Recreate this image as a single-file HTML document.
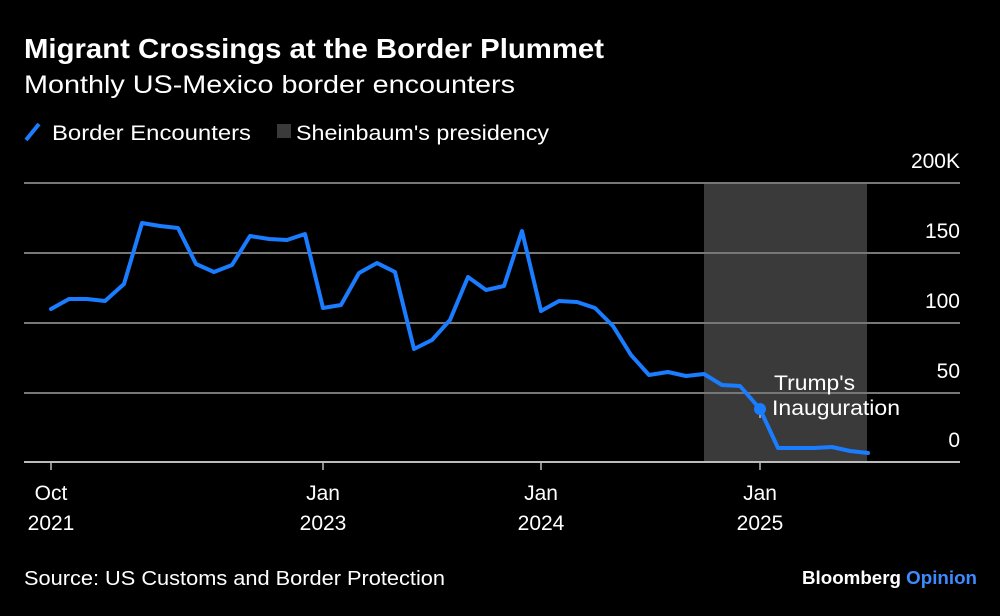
<!DOCTYPE html>
<html><head><meta charset="utf-8"><style>
html,body{margin:0;padding:0;background:#000;}
body{width:1000px;height:611px;overflow:hidden;font-family:"Liberation Sans",Arial,sans-serif;color:#fff;}
</style></head><body>
<svg width="1000" height="611" viewBox="0 0 1000 611" xmlns="http://www.w3.org/2000/svg" font-family="Liberation Sans, Arial, sans-serif">
<rect width="1000" height="611" fill="#000"/>
<text x="24" y="58" font-size="28" font-weight="bold" fill="#fff" textLength="580" lengthAdjust="spacingAndGlyphs">Migrant Crossings at the Border Plummet</text>
<text x="24" y="93" font-size="25" fill="#fff" textLength="491" lengthAdjust="spacingAndGlyphs">Monthly US-Mexico border encounters</text>
<line x1="26" y1="140" x2="39" y2="124" stroke="#1a7cff" stroke-width="4"/>
<text x="52" y="140" font-size="21" fill="#fff" textLength="199" lengthAdjust="spacingAndGlyphs">Border Encounters</text>
<rect x="277" y="124" width="14" height="14" fill="#3a3a3a"/>
<text x="296" y="140" font-size="21" fill="#fff" textLength="253" lengthAdjust="spacingAndGlyphs">Sheinbaum's presidency</text>
<rect x="704" y="183" width="163" height="279" fill="#3a3a3a"/>
<g stroke="#777" stroke-width="2">
<line x1="24" y1="183" x2="960" y2="183"/>
<line x1="24" y1="253" x2="960" y2="253"/>
<line x1="24" y1="323" x2="960" y2="323"/>
<line x1="24" y1="393" x2="960" y2="393"/>
</g>
<line x1="24" y1="462" x2="960" y2="462" stroke="#bbb" stroke-width="2"/>
<g font-size="21" fill="#fff" text-anchor="end">
<text x="960" y="168">200K</text>
<text x="960" y="238">150</text>
<text x="960" y="308">100</text>
<text x="960" y="378">50</text>
<text x="960" y="447">0</text>
</g>
<g stroke="#bbb" stroke-width="1.5">
<line x1="51" y1="462" x2="51" y2="470"/>
<line x1="323" y1="462" x2="323" y2="470"/>
<line x1="541" y1="462" x2="541" y2="470"/>
<line x1="760" y1="462" x2="760" y2="470"/>
<line x1="760" y1="409" x2="760" y2="418"/>
</g>
<g font-size="21" fill="#fff" text-anchor="middle">
<text x="51" y="500">Oct</text><text x="51" y="530">2021</text>
<text x="323" y="500">Jan</text><text x="323" y="530">2023</text>
<text x="541" y="500">Jan</text><text x="541" y="530">2024</text>
<text x="760" y="500">Jan</text><text x="760" y="530">2025</text>
</g>
<polyline fill="none" stroke="#1a7cff" stroke-width="4" stroke-linejoin="round" stroke-linecap="round" points="51,309 69,299 87,299 105,301 124,284 142,223 160,226 178,228 196,264 214,272 232,265 250,236 269,239 287,240 305,234 323,308 341,305 359,273 377,263 395,272 414,349 432,340 450,320 468,277 486,290 504,286 522,231 541,311 559,301 577,302 595,308 613,326 631,355 649,375 668,372 686,376 704,374 722,385 740,386 760,409 778,448 796,448 814,448 832,447 850,451 868,453"/>
<circle cx="760" cy="409" r="6" fill="#1a7cff"/>
<text x="774" y="390" font-size="21" fill="#fff" textLength="81" lengthAdjust="spacingAndGlyphs">Trump's</text>
<text x="772" y="415" font-size="21" fill="#fff" textLength="128" lengthAdjust="spacingAndGlyphs">Inauguration</text>
<text x="24" y="585" font-size="20" fill="#fff" textLength="421" lengthAdjust="spacingAndGlyphs">Source: US Customs and Border Protection</text>
<text x="802" y="584" font-size="18" font-weight="bold" fill="#fff" textLength="175" lengthAdjust="spacingAndGlyphs">Bloomberg <tspan fill="#3d8bff">Opinion</tspan></text>
</svg>
</body></html>
